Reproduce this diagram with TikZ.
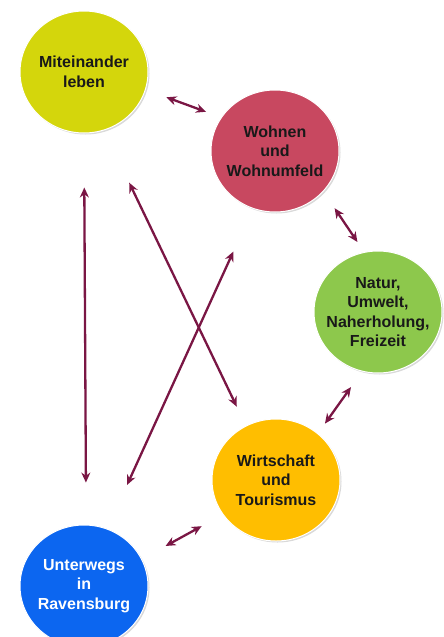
\documentclass[tikz,border=0pt]{standalone}
\usepackage{fontspec}
\setmainfont{Liberation Sans}
\usetikzlibrary{arrows.meta,shapes.geometric,shadows}
\definecolor{mitcol}{RGB}{212,214,12}
\definecolor{wohcol}{RGB}{200,72,96}
\definecolor{natcol}{RGB}{141,200,76}
\definecolor{wircol}{RGB}{255,190,0}
\definecolor{untcol}{RGB}{12,102,240}
\definecolor{arrcol}{RGB}{122,22,68}
\tikzset{
  bubble/.style={ellipse, minimum width=128pt, minimum height=122pt, inner sep=-14pt,
    draw=white, line width=1pt, align=center, font=\fontsize{16}{19.5}\selectfont\bfseries,
    text=black!90, drop shadow={shadow xshift=1.5pt, shadow yshift=-1.5pt, opacity=0.3}},
  link/.style={{Stealth[length=10pt,width=9pt]}-{Stealth[length=10pt,width=9pt]}, line width=2.3pt, draw=arrcol}
}
\begin{document}
\begin{tikzpicture}[x=1pt,y=-1pt]
\useasboundingbox (0,0) rectangle (444,637);

\node[bubble, fill=mitcol] (mit) at (84,72) {Miteinander\\leben};
\node[bubble, fill=wohcol] (woh) at (275,151) {Wohnen\\und\\Wohnumfeld};
\node[bubble, fill=natcol] (nat) at (378,312) {Natur,\\Umwelt,\\Naherholung,\\Freizeit};
\node[bubble, fill=wircol] (wir) at (276,480) {Wirtschaft\\und\\Tourismus};
\node[bubble, fill=untcol, text=white] (unt) at (84,586) {Unterwegs\\in\\Ravensburg};

\draw[link, shorten <=22pt, shorten >=16pt] (mit.-16) -- (woh.148);
\draw[link, shorten <=20pt, shorten >=12pt] (woh.-40) -- (nat.103);
\draw[link, shorten <=19pt, shorten >=12pt] (nat.-105) -- (wir.48);
\draw[link, shorten <=24pt, shorten >=27pt] (wir.-147) -- (unt.25);
\draw[link, shorten <=54pt, shorten >=42pt] (mit.-90) -- (unt.88);
\draw[link, shorten <=58pt, shorten >=21pt] (mit.-71) -- (wir.119);
\draw[link, shorten <=47pt, shorten >=48pt] (woh.-111) -- (unt.68);
\end{tikzpicture}
\end{document}
